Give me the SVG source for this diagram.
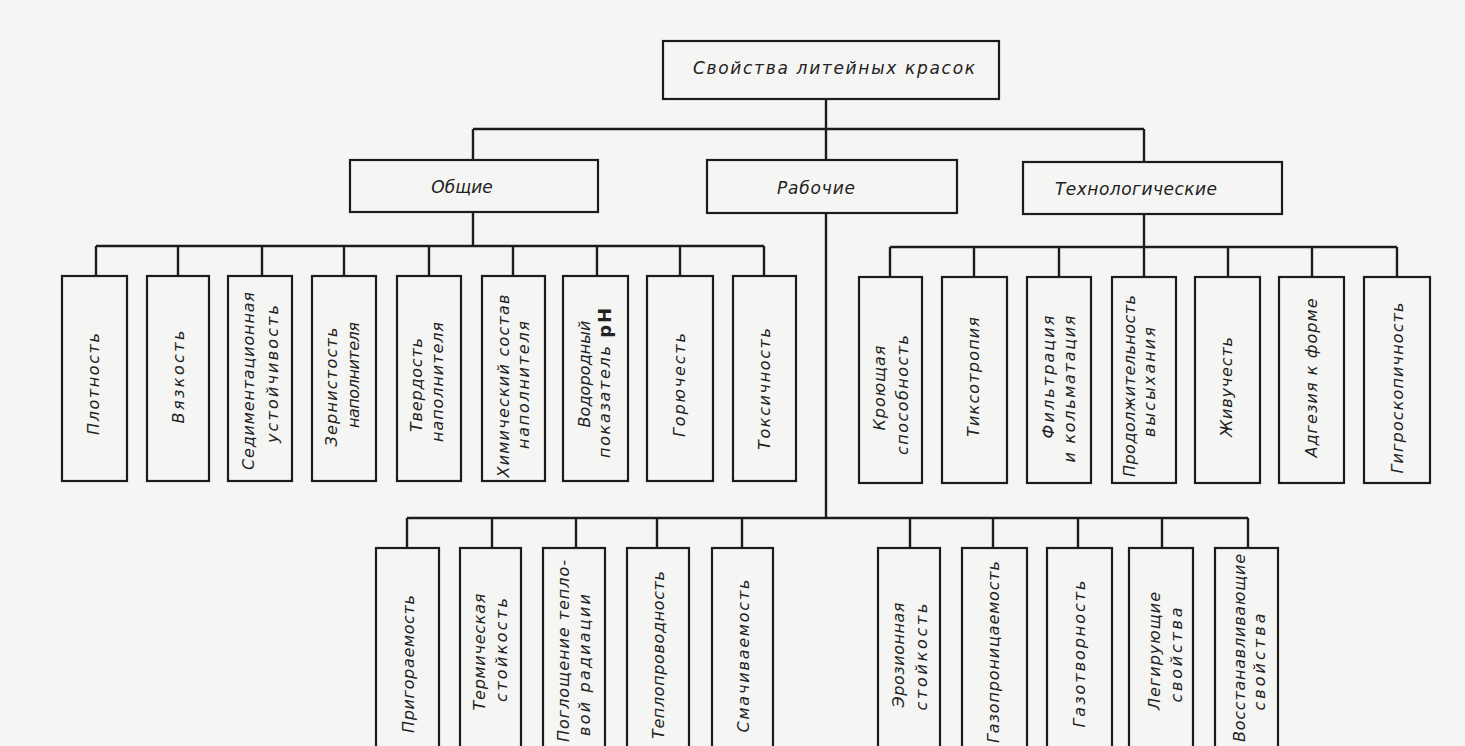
<svg xmlns="http://www.w3.org/2000/svg" width="1465" height="746" viewBox="0 0 1465 746">
<style>
.bg{fill:#f5f5f3}
.box{fill:none;stroke:#1c1c1c;stroke-width:2.2}
.conn{fill:none;stroke:#1c1c1c;stroke-width:2.4}
text{font-family:"DejaVu Sans","Liberation Sans",sans-serif;font-style:oblique;font-size:16px;fill:#222;dominant-baseline:central;text-anchor:middle}
.h{font-size:17px}
.ph{font-style:normal;font-weight:bold;font-size:18px}
</style>
<rect class="bg" x="0" y="0" width="1465" height="746"/>
<g id="connectors">
<path class="conn" d="M826 99V129M473 129H1144M473 129V160M826 129V160M1144 129V162"/>
<path class="conn" d="M473 212V246M96 246H764M96 246V276M178 246V276M262 246V276M344 246V276M429 246V276M513 246V276M597 246V276M680 246V276M764 246V276"/>
<path class="conn" d="M1144 214V247M890 247H1397M890 247V277M974 247V277M1059 247V277M1144 247V277M1228 247V277M1312 247V277M1397 247V277"/>
<path class="conn" d="M826 213V518M407 518H1248M407 518V548M492 518V548M576 518V548M657 518V548M742 518V548M910 518V548M993 518V548M1078 518V548M1162 518V548M1248 518V548"/>
</g>
<g id="root"><rect class="box" x="663" y="41" width="336" height="58"/><text class="h" x="834" y="68" textLength="282">Свойства литейных красок</text></g>
<g id="obshchie"><rect class="box" x="350" y="160" width="248" height="52"/><text class="h" x="462" y="187">Общие</text></g>
<g id="rabochie"><rect class="box" x="707" y="160" width="250" height="53"/><text class="h" x="816" y="188" textLength="78">Рабочие</text></g>
<g id="tekhnologicheskie"><rect class="box" x="1023" y="162" width="259" height="52"/><text class="h" x="1136" y="189" textLength="162">Технологические</text></g>

<g id="plotnost"><rect class="box" x="62" y="276" width="65" height="205"/><text transform="translate(93,384) rotate(-90)" textLength="102">Плотность</text></g>
<g id="vyazkost"><rect class="box" x="147" y="276" width="62" height="205"/><text transform="translate(178,377) rotate(-90)" textLength="93">Вязкость</text></g>
<g id="sediment"><rect class="box" x="228" y="276" width="64" height="205"/><text transform="translate(248,381) rotate(-90)" textLength="178">Седиментационная</text><text transform="translate(272,374) rotate(-90)" textLength="138">устойчивость</text></g>
<g id="zernistost"><rect class="box" x="312" y="276" width="64" height="205"/><text transform="translate(331,387) rotate(-90)" textLength="119">Зернистость</text><text transform="translate(353,375) rotate(-90)" textLength="106">наполнителя</text></g>
<g id="tverdost"><rect class="box" x="397" y="276" width="64" height="205"/><text transform="translate(416,385) rotate(-90)" textLength="94">Твердость</text><text transform="translate(437,382) rotate(-90)" textLength="120">наполнителя</text></g>
<g id="khim"><rect class="box" x="482" y="276" width="63" height="205"/><text transform="translate(503,386) rotate(-90)" textLength="183">Химический состав</text><text transform="translate(523,385) rotate(-90)" textLength="128">наполнителя</text></g>
<g id="vodorod"><rect class="box" x="563" y="276" width="65" height="205"/><text transform="translate(584,374) rotate(-90)" textLength="107">Водородный</text><text transform="translate(604,383) rotate(-90)" textLength="150">показатель <tspan class="ph">pH</tspan></text></g>
<g id="goryuchest"><rect class="box" x="647" y="276" width="66" height="205"/><text transform="translate(679,385) rotate(-90)" textLength="104">Горючесть</text></g>
<g id="toksichnost"><rect class="box" x="733" y="276" width="63" height="205"/><text transform="translate(764,389) rotate(-90)" textLength="122">Токсичность</text></g>

<g id="kroyushchaya"><rect class="box" x="859" y="277" width="63" height="206"/><text transform="translate(879,388) rotate(-90)" textLength="85">Кроющая</text><text transform="translate(902,395) rotate(-90)" textLength="120">способность</text></g>
<g id="tiksotropiya"><rect class="box" x="942" y="277" width="65" height="206"/><text transform="translate(973,377) rotate(-90)" textLength="120">Тиксотропия</text></g>
<g id="filtraciya"><rect class="box" x="1027" y="277" width="64" height="206"/><text transform="translate(1048,377) rotate(-90)" textLength="123">Фильтрация</text><text transform="translate(1069,389) rotate(-90)" textLength="147">и кольматация</text></g>
<g id="prodolzh"><rect class="box" x="1112" y="277" width="64" height="206"/><text transform="translate(1129,386) rotate(-90)" textLength="182">Продолжительность</text><text transform="translate(1149,382) rotate(-90)" textLength="110">высыхания</text></g>
<g id="zhivuchest"><rect class="box" x="1195" y="277" width="65" height="206"/><text transform="translate(1226,387) rotate(-90)" textLength="100">Живучесть</text></g>
<g id="adgeziya"><rect class="box" x="1279" y="277" width="65" height="206"/><text transform="translate(1311,378) rotate(-90)" textLength="159">Адгезия к форме</text></g>
<g id="gigroskop"><rect class="box" x="1364" y="277" width="66" height="206"/><text transform="translate(1397,388) rotate(-90)" textLength="171">Гигроскопичность</text></g>

<g id="prigoraemost"><rect class="box" x="376" y="548" width="63" height="220"/><text transform="translate(408,664) rotate(-90)" textLength="138">Пригораемость</text></g>
<g id="termich"><rect class="box" x="460" y="548" width="61" height="220"/><text transform="translate(479,652) rotate(-90)" textLength="117">Термическая</text><text transform="translate(501,650) rotate(-90)" textLength="104">стойкость</text></g>
<g id="pogloshchenie"><rect class="box" x="543" y="548" width="62" height="220"/><text transform="translate(563,651) rotate(-90)" textLength="182">Поглощение тепло-</text><text transform="translate(584,665) rotate(-90)" textLength="142">вой радиации</text></g>
<g id="teploprov"><rect class="box" x="627" y="548" width="62" height="220"/><text transform="translate(658,655) rotate(-90)" textLength="168">Теплопроводность</text></g>
<g id="smachiv"><rect class="box" x="712" y="548" width="61" height="220"/><text transform="translate(743,656) rotate(-90)" textLength="153">Смачиваемость</text></g>
<g id="eroziya"><rect class="box" x="878" y="548" width="62" height="220"/><text transform="translate(898,655) rotate(-90)" textLength="105">Эрозионная</text><text transform="translate(921,657) rotate(-90)" textLength="107">стойкость</text></g>
<g id="gazopron"><rect class="box" x="962" y="548" width="65" height="220"/><text transform="translate(993,652) rotate(-90)" textLength="182">Газопроницаемость</text></g>
<g id="gazotvor"><rect class="box" x="1047" y="548" width="65" height="220"/><text transform="translate(1079,654) rotate(-90)" textLength="147">Газотворность</text></g>
<g id="legir"><rect class="box" x="1129" y="548" width="64" height="220"/><text transform="translate(1154,651) rotate(-90)" textLength="118">Легирующие</text><text transform="translate(1176,655) rotate(-90)" textLength="95">свойства</text></g>
<g id="vosstan"><rect class="box" x="1215" y="548" width="63" height="220"/><text transform="translate(1239,648) rotate(-90)" textLength="188">Восстанавливающие</text><text transform="translate(1259,662) rotate(-90)" textLength="97">свойства</text></g>
</svg>
